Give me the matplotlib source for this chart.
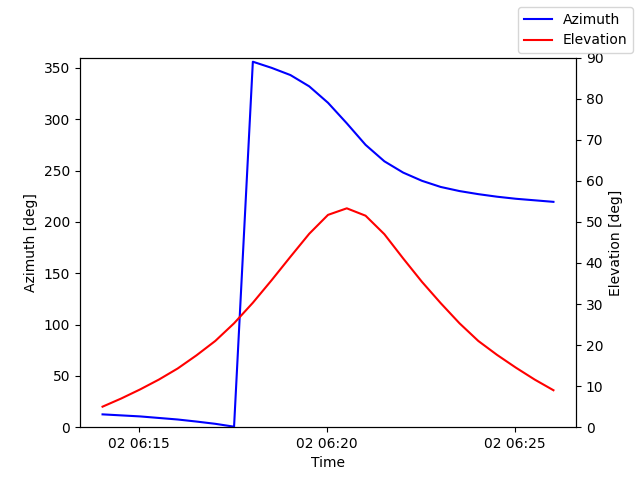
import matplotlib
matplotlib.use("Agg")
import matplotlib.pyplot as plt
import numpy as np
import pandas as pd

times = pd.date_range("2024-01-02 06:14:02", periods=25, freq="30s")
azimuth = [12.5, 11.5, 10.5, 9.0, 7.5, 5.5, 3.3, 0.5, 356, 350, 343, 332, 316,
           296, 275, 259, 248, 240, 234, 230, 227, 224.5, 222.5, 221, 219.5]
elevation = [5.0, 7.0, 9.2, 11.6, 14.3, 17.5, 21.0, 25.3, 30.3, 35.8, 41.5, 47.1,
             51.7, 53.3, 51.5, 47.0, 41.1, 35.4, 30.2, 25.3, 21.0, 17.6, 14.5, 11.6, 9.0]

fig, ax = plt.subplots(figsize=(6.4, 4.8), dpi=100)
ax.plot(times, azimuth, color="blue", label="Azimuth")
ax.set_ylim(0, 360)
ax.set_ylabel("Azimuth [deg]")
ax.set_xlabel("Time")
ax2 = ax.twinx()
ax2.plot(times, elevation, color="red", label="Elevation")
ax2.set_ylim(0, 90)
ax2.set_ylabel("Elevation [deg]")
fig.legend(loc="upper right")
fig.savefig("out.png")
